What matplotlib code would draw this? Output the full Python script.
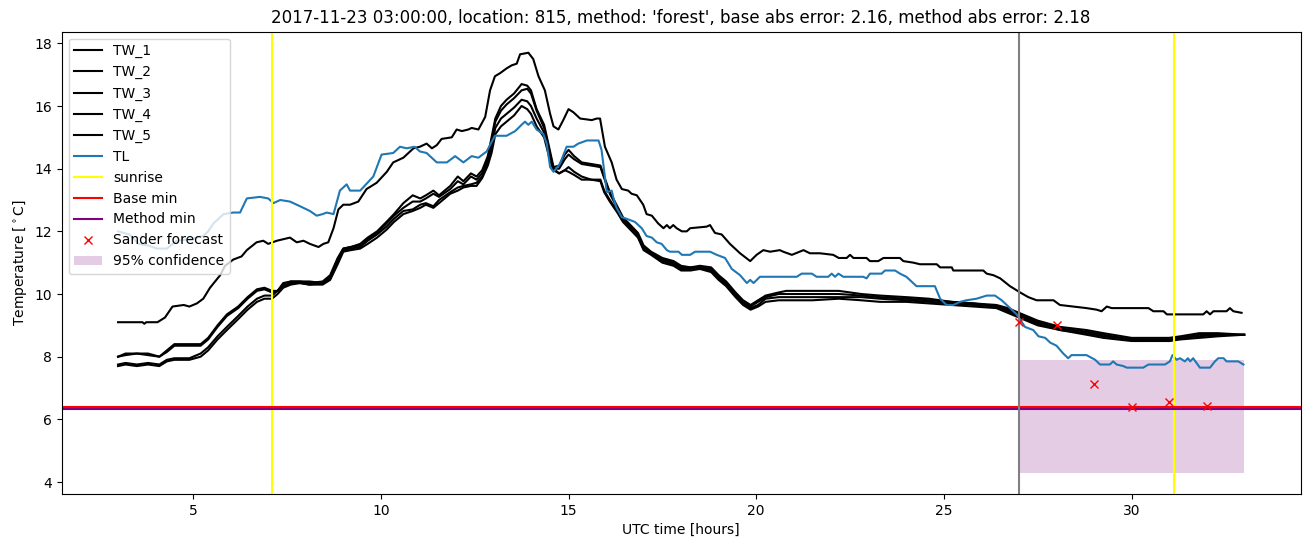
import numpy as np
import matplotlib

matplotlib.use("Agg")
import matplotlib.pyplot as plt

# ---- data ----
tw1_time = [3.0, 3.65, 3.7, 3.75, 4.05, 4.25, 4.45, 4.75, 4.9, 5.1,
            5.27, 5.45, 5.72, 5.85, 6.07, 6.29, 6.43, 6.69, 6.87, 7.0,
            7.23, 7.4, 7.58, 7.76, 7.94, 8.11, 8.34, 8.47, 8.6, 8.74,
            8.87, 9.0, 9.18, 9.4, 9.62, 9.89, 10.16, 10.33, 10.6, 10.87,
            11.04, 11.22, 11.36, 11.49, 11.62, 11.89, 12.02, 12.16, 12.33, 12.42,
            12.6, 12.78, 12.91, 13.04, 13.18, 13.35, 13.49, 13.62, 13.71, 13.93,
            14.06, 14.2, 14.37, 14.51, 14.6, 14.73, 14.86, 15.0, 15.13, 15.31,
            15.62, 15.75, 15.84, 15.97, 16.15, 16.28, 16.42, 16.59, 16.68, 16.82,
            16.99, 17.08, 17.22, 17.39, 17.53, 17.62, 17.7, 17.79, 17.88, 18.02,
            18.15, 18.24, 18.68, 18.77, 18.9, 19.08, 19.3, 19.57, 19.84, 20.01,
            20.19, 20.37, 20.63, 20.72, 20.95, 21.26, 21.43, 21.7, 22.05, 22.2,
            22.41, 22.5, 22.59, 22.94, 23.03, 23.25, 23.39, 23.83, 23.92, 24.19,
            24.36, 24.81, 24.9, 25.21, 25.25, 26.05, 26.14, 26.32, 26.5, 26.76,
            27.03, 27.25, 27.47, 27.92, 28.09, 28.8, 29.07, 29.2, 29.34, 29.47,
            30.45, 30.58, 30.85, 30.94, 31.91, 32.0, 32.09, 32.18, 32.53, 32.62,
            32.71, 32.93]
tw1_temp = [9.1, 9.1, 9.05, 9.1, 9.1, 9.25, 9.6, 9.65, 9.6, 9.7,
            9.85, 10.2, 10.6, 10.9, 11.1, 11.2, 11.4, 11.65, 11.7, 11.6,
            11.7, 11.75, 11.8, 11.65, 11.7, 11.6, 11.5, 11.6, 11.65, 12.1,
            12.7, 12.85, 12.85, 12.95, 13.35, 13.55, 13.9, 14.2, 14.35, 14.65,
            14.7, 14.8, 14.65, 14.75, 14.95, 15.0, 15.25, 15.2, 15.25, 15.3,
            15.25, 15.65, 16.5, 16.95, 17.05, 17.2, 17.3, 17.35, 17.65, 17.7,
            17.5, 16.95, 16.5, 15.75, 15.35, 15.25, 15.55, 15.9, 15.8, 15.6,
            15.55, 15.6, 15.6, 14.7, 14.2, 13.65, 13.35, 13.3, 13.2, 13.15,
            12.85, 12.55, 12.5, 12.25, 12.1, 12.2, 12.1, 12.2, 12.1, 12.0,
            12.0, 12.1, 12.15, 12.2, 11.95, 11.9, 11.6, 11.3, 11.05, 11.25,
            11.4, 11.35, 11.4, 11.35, 11.25, 11.4, 11.3, 11.3, 11.25, 11.15,
            11.15, 11.25, 11.15, 11.15, 11.05, 11.05, 11.15, 11.15, 11.05, 11.0,
            10.95, 10.95, 10.85, 10.85, 10.75, 10.75, 10.65, 10.6, 10.5, 10.25,
            10.05, 9.9, 9.8, 9.8, 9.65, 9.55, 9.5, 9.45, 9.6, 9.55,
            9.55, 9.45, 9.45, 9.35, 9.35, 9.45, 9.35, 9.45, 9.45, 9.55,
            9.45, 9.4]

bundle_time = [3.0, 3.2, 3.5, 3.8, 4.1, 4.3, 4.5, 4.9, 5.2, 5.4,
               5.65, 5.9, 6.2, 6.45, 6.7, 6.9, 7.1, 7.25, 7.4, 7.6,
               7.85, 8.1, 8.45, 8.65, 8.85, 9.0, 9.2, 9.45, 9.65, 9.9,
               10.15, 10.35, 10.6, 10.85, 11.05, 11.2, 11.4, 11.55, 11.85, 12.05,
               12.2, 12.4, 12.55, 12.7, 12.85, 12.95, 13.05, 13.2, 13.35, 13.55,
               13.75, 13.9, 14.0, 14.15, 14.35, 14.5, 14.6, 14.75, 14.9, 15.0,
               15.15, 15.35, 15.6, 15.85, 15.95, 16.1, 16.3, 16.45, 16.65, 16.85,
               17.0, 17.2, 17.5, 17.8, 18.0, 18.25, 18.5, 18.8, 19.0, 19.2,
               19.45, 19.65, 19.85, 20.05, 20.25, 20.6, 20.8, 21.5, 22.2, 22.8,
               23.3, 24.0, 24.6, 25.2, 25.8, 26.4, 26.7, 27.0, 27.5, 28.1,
               28.8, 29.25, 30.0, 31.0, 31.3, 31.8, 32.3, 33.0]
tw2_temp = [8.0, 8.1, 8.1, 8.1, 8.0, 8.2, 8.4, 8.4, 8.4, 8.6,
            9.0, 9.35, 9.6, 9.9, 10.15, 10.2, 10.1, 10.1, 10.35, 10.4,
            10.4, 10.35, 10.4, 10.6, 11.15, 11.45, 11.5, 11.6, 11.8, 12.0,
            12.3, 12.55, 12.9, 13.15, 13.05, 13.15, 13.3, 13.15, 13.45, 13.75,
            13.6, 13.85, 13.75, 13.95, 14.4, 15.0, 15.6, 16.0, 16.2, 16.4,
            16.7, 16.65, 16.5, 15.9, 15.4, 14.6, 14.05, 14.1, 14.45, 14.6,
            14.4, 14.2, 14.15, 14.1, 13.75, 13.25, 12.8, 12.45, 12.2, 11.95,
            11.55, 11.35, 11.15, 11.05, 10.9, 10.85, 10.9, 10.85, 10.6, 10.4,
            10.05, 9.8, 9.65, 9.8, 9.95, 10.05, 10.1, 10.1, 10.1, 10.0,
            9.95, 9.9, 9.85, 9.75, 9.7, 9.65, 9.55, 9.4, 9.15, 8.95,
            8.85, 8.75, 8.6, 8.6, 8.65, 8.75, 8.75, 8.7]
tw3_temp = [8.0, 8.05, 8.1, 8.05, 8.0, 8.15, 8.35, 8.35, 8.35, 8.55,
            8.95, 9.3, 9.55, 9.85, 10.1, 10.15, 10.05, 10.1, 10.3, 10.4,
            10.4, 10.4, 10.35, 10.55, 11.1, 11.45, 11.5, 11.55, 11.75, 11.95,
            12.25, 12.5, 12.75, 12.95, 12.95, 13.05, 13.2, 13.1, 13.35, 13.6,
            13.5, 13.75, 13.65, 13.85, 14.3, 14.9, 15.5, 15.85, 16.05, 16.25,
            16.5, 16.55, 16.4, 15.85, 15.3, 14.5, 14.0, 14.0, 14.3, 14.45,
            14.3, 14.15, 14.1, 14.05, 13.7, 13.2, 12.75, 12.4, 12.15, 11.9,
            11.5, 11.3, 11.1, 11.0, 10.85, 10.85, 10.85, 10.8, 10.55, 10.35,
            10.0, 9.75, 9.6, 9.75, 9.9, 10.0, 10.0, 10.0, 10.0, 9.95,
            9.9, 9.85, 9.8, 9.75, 9.7, 9.6, 9.5, 9.35, 9.1, 8.9,
            8.8, 8.7, 8.55, 8.55, 8.6, 8.7, 8.7, 8.7]
tw4_temp = [7.75, 7.8, 7.75, 7.8, 7.75, 7.9, 7.95, 7.95, 8.1, 8.3,
            8.65, 8.95, 9.3, 9.6, 9.85, 9.95, 9.95, 10.1, 10.25, 10.35,
            10.35, 10.3, 10.35, 10.5, 11.0, 11.4, 11.45, 11.5, 11.7, 11.9,
            12.15, 12.4, 12.65, 12.7, 12.85, 12.9, 12.8, 13.0, 13.25, 13.4,
            13.45, 13.5, 13.55, 13.75, 14.2, 14.7, 15.3, 15.6, 15.75, 15.95,
            16.2, 16.15, 16.0, 15.6, 15.15, 14.4, 14.0, 13.85, 13.95, 14.05,
            13.9, 13.75, 13.65, 13.65, 13.3, 13.0, 12.65, 12.35, 12.1, 11.85,
            11.45, 11.3, 11.05, 10.95, 10.8, 10.8, 10.85, 10.75, 10.5, 10.3,
            9.95, 9.7, 9.55, 9.65, 9.85, 9.9, 9.9, 9.9, 9.9, 9.9,
            9.85, 9.8, 9.75, 9.7, 9.65, 9.6, 9.45, 9.3, 9.05, 8.85,
            8.75, 8.65, 8.55, 8.5, 8.6, 8.65, 8.7, 8.7]
tw5_temp = [7.7, 7.75, 7.7, 7.75, 7.7, 7.85, 7.9, 7.9, 8.0, 8.2,
            8.55, 8.85, 9.2, 9.5, 9.75, 9.85, 9.85, 10.0, 10.2, 10.3,
            10.35, 10.3, 10.3, 10.45, 10.95, 11.35, 11.4, 11.45, 11.6, 11.8,
            12.05, 12.3, 12.55, 12.65, 12.75, 12.85, 12.75, 12.9, 13.2, 13.3,
            13.4, 13.45, 13.45, 13.7, 14.1, 14.5, 15.1, 15.35, 15.5, 15.7,
            16.0, 15.9, 15.75, 15.35, 15.0, 14.3, 13.95, 13.85, 13.95, 13.9,
            13.8, 13.65, 13.65, 13.6, 13.25, 12.95, 12.6, 12.3, 12.05, 11.8,
            11.4, 11.25, 11.0, 10.9, 10.75, 10.75, 10.8, 10.7, 10.45, 10.25,
            9.9, 9.65, 9.5, 9.6, 9.75, 9.8, 9.8, 9.8, 9.85, 9.8,
            9.75, 9.75, 9.7, 9.65, 9.6, 9.55, 9.4, 9.25, 9.0, 8.85,
            8.7, 8.6, 8.5, 8.5, 8.55, 8.6, 8.65, 8.7]

tl_time = [3.0, 3.3, 3.55, 3.8, 4.03, 4.3, 4.56, 4.9, 5.27, 5.4,
           5.54, 5.81, 6.07, 6.25, 6.43, 6.78, 7.0, 7.14, 7.32, 7.58,
           7.85, 8.11, 8.29, 8.45, 8.56, 8.74, 8.91, 9.09, 9.18, 9.45,
           9.8, 10.02, 10.33, 10.51, 10.69, 10.9, 11.04, 11.22, 11.49, 11.76,
           11.98, 12.2, 12.42, 12.6, 12.82, 13.04, 13.18, 13.35, 13.58, 13.75,
           13.84, 13.93, 14.02, 14.15, 14.33, 14.42, 14.51, 14.6, 14.77, 14.95,
           15.13, 15.26, 15.49, 15.8, 15.88, 16.02, 16.15, 16.2, 16.28, 16.42,
           16.55, 16.77, 16.95, 17.08, 17.22, 17.35, 17.48, 17.62, 17.7, 17.93,
           18.02, 18.24, 18.37, 18.77, 18.95, 19.17, 19.35, 19.57, 19.75, 19.84,
           19.93, 20.1, 21.08, 21.21, 21.48, 21.61, 21.92, 22.01, 22.1, 22.19,
           22.32, 22.85, 22.94, 23.03, 23.34, 23.43, 23.7, 23.83, 24.0, 24.27,
           24.76, 24.9, 25.07, 25.25, 25.43, 25.6, 25.87, 26.14, 26.36, 26.54,
           26.76, 26.94, 27.16, 27.38, 27.52, 27.7, 27.83, 28.0, 28.18, 28.31,
           28.4, 28.8, 29.03, 29.16, 29.42, 29.51, 29.6, 29.78, 29.87, 30.31,
           30.45, 30.89, 31.02, 31.09, 31.2, 31.29, 31.42, 31.5, 31.56, 31.64,
           31.82, 32.09, 32.22, 32.31, 32.45, 32.53, 32.84, 32.98]
tl_temp = [12.0, 11.9, 11.6, 11.55, 11.45, 11.45, 11.7, 11.75, 11.85, 12.0,
           12.25, 12.55, 12.6, 12.6, 13.05, 13.1, 13.05, 12.9, 13.0, 12.95,
           12.8, 12.65, 12.5, 12.55, 12.6, 12.55, 13.3, 13.5, 13.3, 13.3,
           13.75, 14.45, 14.5, 14.7, 14.65, 14.7, 14.55, 14.5, 14.2, 14.2,
           14.4, 14.2, 14.4, 14.35, 14.55, 15.05, 15.05, 15.05, 15.2, 15.4,
           15.5, 15.4, 15.5, 15.25, 15.1, 14.8, 14.05, 13.9, 14.15, 14.7,
           14.7, 14.8, 14.9, 14.9, 14.6, 13.25, 13.3, 13.05, 12.75, 12.45,
           12.4, 12.3, 12.1, 11.85, 11.8, 11.65, 11.6, 11.4, 11.35, 11.35,
           11.25, 11.25, 11.35, 11.35, 11.25, 11.15, 10.8, 10.6, 10.35, 10.45,
           10.35, 10.55, 10.55, 10.65, 10.65, 10.55, 10.55, 10.65, 10.55, 10.65,
           10.55, 10.55, 10.5, 10.65, 10.65, 10.75, 10.75, 10.65, 10.55, 10.25,
           10.25, 9.85, 9.65, 9.65, 9.75, 9.8, 9.85, 9.95, 9.95, 9.8,
           9.55, 9.35, 8.95, 8.85, 8.65, 8.6, 8.45, 8.35, 8.1, 7.95,
           8.05, 8.05, 7.9, 7.75, 7.75, 7.85, 7.75, 7.7, 7.65, 7.65,
           7.75, 7.75, 7.85, 8.05, 7.9, 7.95, 7.85, 7.95, 7.85, 7.95,
           7.65, 7.65, 7.85, 7.95, 7.95, 7.85, 7.85, 7.75]

sunrise_times = [7.1, 31.12]
forecast_start = 27.0
base_min = 6.38
method_min = 6.33

sander_time = [27, 28, 29, 30, 31, 32]
sander_temp = [9.12, 9.0, 7.14, 6.38, 6.54, 6.44]

conf_time = [27.0, 33.0]
conf_low = [4.29, 4.29]
conf_high = [7.88, 7.88]

title = ("2017-11-23 03:00:00, location: 815, method: 'forest', "
         "base abs error: 2.16, method abs error: 2.18")

tw_series = [tw2_temp, tw3_temp, tw4_temp, tw5_temp]
assert len(tw1_time) == len(tw1_temp)
assert len(tl_time) == len(tl_temp)
for s in tw_series:
    assert len(s) == len(bundle_time)


def main():
    fig, ax = plt.subplots(figsize=(13.11, 5.47), dpi=100)
    fig.subplots_adjust(left=0.0471, right=0.992, top=0.942, bottom=0.097)

    ax.plot(tw1_time, tw1_temp, color="black", label="TW_1")
    for i, temps in enumerate(tw_series, start=2):
        ax.plot(bundle_time, temps, color="black", label=f"TW_{i}")
    ax.plot(tl_time, tl_temp, color="C0", label="TL")

    for i, t in enumerate(sunrise_times):
        ax.axvline(t, color="yellow", label="sunrise" if i == 0 else None)

    # method min drawn after base min and slightly lower, so both show
    ax.axhline(base_min, color="red", label="Base min")
    ax.axhline(method_min, color="purple", label="Method min")
    ax.axvline(forecast_start, color="gray")
    ax.plot(sander_time, sander_temp, "rx", label="Sander forecast")
    ax.fill_between(conf_time, conf_low, conf_high, color="purple", alpha=0.2,
                    linewidth=0, label="95% confidence")

    ax.set_title(title)
    ax.set_xlabel("UTC time [hours]")
    ax.set_ylabel(r"Temperature [$^\circ$C]")
    ax.legend(loc="upper left")

    fig.savefig("out.png", dpi=100)
    plt.close(fig)


if __name__ == "__main__":
    main()
